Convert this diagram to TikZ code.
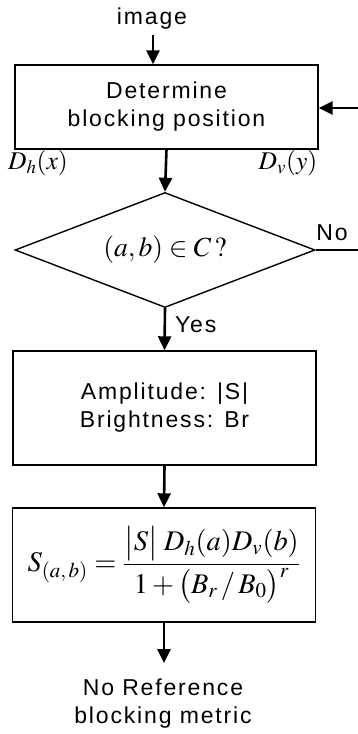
\documentclass[tikz,border=0pt]{standalone}
\usepackage{amsmath}
\usepackage{mathptmx}
\usepackage{fontspec}
\setmainfont{Liberation Sans}
\newfontfamily\sff[LetterSpace=8]{Liberation Sans}
\usetikzlibrary{shapes.geometric,arrows.meta}
\begin{document}
\begin{tikzpicture}[x=1pt,y=-1pt,
  boxnode/.style={draw,line width=1.4pt,minimum width=303pt,inner sep=0pt,align=center,font=\sff\fontsize{23}{28}\selectfont},
  arr/.style={line width=2.6pt,-{Triangle[width=13pt,length=14pt]}},
  plain/.style={line width=2.2pt},
  lbl/.style={inner sep=0pt,font=\sff\fontsize{23}{28}\selectfont},
  mlbl/.style={inner sep=0pt,font=\fontsize{17}{20}\selectfont}]
\useasboundingbox (0,0) rectangle (358,734);
\node[lbl] (img) at (152,19) {image};
\coordinate (imgs) at (153,35);
\node[boxnode,minimum height=84pt] (b1) at (166.5,107) {Determine\\blocking position};
\coordinate (rin) at (358,108);
\node[mlbl] (dh) at (38,163) {\scalebox{1.5}{$D_h(x)$}};
\node[mlbl] (dv) at (288,163) {\scalebox{1.5}{$D_v(y)$}};
\node[draw,diamond,line width=1.4pt,aspect=2.6,minimum width=300pt,minimum height=115pt,inner sep=0pt,font=\fontsize{23}{26}\selectfont] (d) at (165,250) {\scalebox{1.2}{$(a,b)\in C\,?$}};
\coordinate (nout) at (358,250);
\node[lbl] (no) at (332,233) {No};
\node[boxnode,minimum height=114pt] (b2) at (164.5,408) {Amplitude: |S|\\Brightness: Br};
\node[boxnode,minimum height=114pt,font=\fontsize{20}{24}\selectfont] (b3) at (164,565)
  {\scalebox{1.42}{$S_{(a,\,b)}=\dfrac{\bigl|S\bigr|\;D_h(a)D_v(b)}{1+\bigl(B_r\,/\,B_0\bigr)^{r}}$}};
\coordinate (oend) at (164,663);
\node[lbl,align=center] (out) at (163,704) {No Reference\\blocking metric};
\draw[arr] (imgs) -- (b1.north -| imgs);
\draw[arr] (rin) -- (b1.east |- rin);
\draw[arr] (b1.south) -- (d.north);
\draw[plain] (d.east) -- (nout);
\draw[arr] (d.south) -- node[lbl,right=9pt,pos=0.4] (yes) {Yes} (b2.north);
\draw[arr] (b2.south) -- (b3.north);
\draw[arr] (b3.south) -- (oend);
\end{tikzpicture}
\end{document}
